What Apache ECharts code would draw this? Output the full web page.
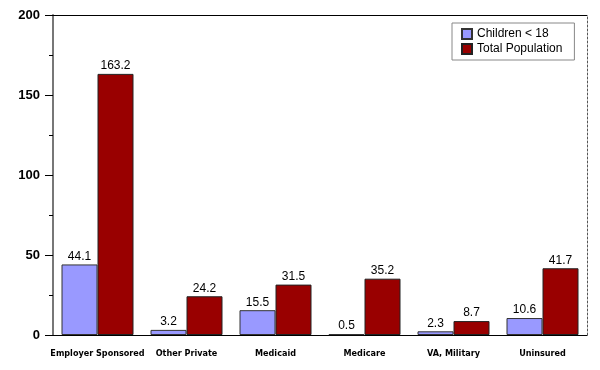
<!DOCTYPE html>
<html><head><meta charset="utf-8">
<script src="https://cdn.jsdelivr.net/npm/echarts@6/dist/echarts.min.js"></script>
<style>html,body{margin:0;padding:0;background:#fff}#c{width:600px;height:370px}</style>
</head><body><div id="c"></div>
<script>
var categories = ['Employer Sponsored','Other Private','Medicaid','Medicare','VA, Military','Uninsured'];
var children = [44.1, 3.2, 15.5, 0.5, 2.3, 10.6];
var totalPop = [163.2, 24.2, 31.5, 35.2, 8.7, 41.7];
var seriesNames = ['Children < 18','Total Population'];
var yTicks = {min:0, max:200, interval:50};

var chart = echarts.init(document.getElementById('c'), null, {renderer:'canvas'});
var font = 'Arial, "Liberation Sans", sans-serif';
var narrow = '"DejaVu Sans Condensed", Arial, sans-serif';
chart.setOption({
  animation:false,
  textStyle:{fontFamily:font},
  grid:{left:53, right:13, top:15, bottom:35},
  legend:{
    orient:'vertical', left:452, top:23,
    data:seriesNames,
    itemWidth:10, itemHeight:10, itemGap:3,
    padding:[5,12,5,9],
    backgroundColor:'#fff', borderColor:'#888', borderWidth:1,
    textStyle:{fontSize:12, color:'#000', fontFamily:font},
    icon:'rect'
  },
  xAxis:[{
    type:'category', data:categories,
    axisLine:{lineStyle:{color:'#000', width:1}},
    axisTick:{show:false},
    axisLabel:{fontSize:9, fontWeight:'bold', color:'#000', margin:14, fontFamily:narrow, interval:0}
  },{
    type:'category', data:categories, position:'top',
    axisLine:{show:true, onZero:false, lineStyle:{color:'#000', width:1}},
    axisTick:{show:false}, axisLabel:{show:false}
  }],
  yAxis:[{
    type:'value', min:yTicks.min, max:yTicks.max, interval:yTicks.interval,
    axisLine:{show:true, onZero:false, lineStyle:{color:'#777', width:2}},
    axisTick:{show:true, length:8, inside:false, lineStyle:{color:'#000'}},
    minorTick:{show:true, splitNumber:2, length:4, lineStyle:{color:'#000'}},
    splitLine:{show:false},
    axisLabel:{fontSize:13, fontWeight:'bold', color:'#000', margin:13, fontFamily:font}
  },{
    type:'value', min:yTicks.min, max:yTicks.max, position:'right',
    axisLine:{show:true, onZero:false, lineStyle:{color:'#555', width:1, type:[2,2]}},
    axisTick:{show:false}, axisLabel:{show:false}, splitLine:{show:false}
  }],
  series:[{
    name:seriesNames[0], type:'bar', data:children,
    barWidth:36, barGap:'0%',
    itemStyle:{color:'#9999ff', borderColor:'#333', borderWidth:1},
    label:{show:true, position:'top', distance:2, fontSize:12, color:'#000', fontFamily:font}
  },{
    name:seriesNames[1], type:'bar', data:totalPop,
    barWidth:36,
    itemStyle:{color:'#990000', borderColor:'#222', borderWidth:1},
    label:{show:true, position:'top', distance:2, fontSize:12, color:'#000', fontFamily:font}
  }]
});
</script></body></html>
